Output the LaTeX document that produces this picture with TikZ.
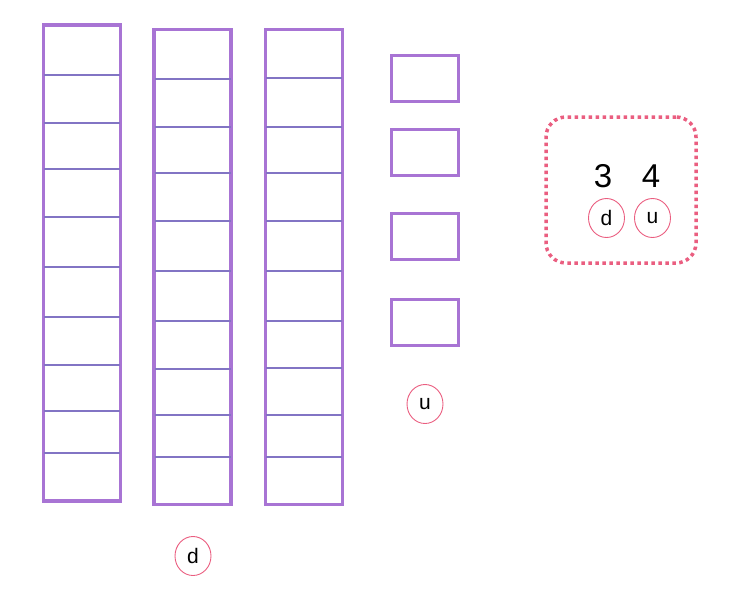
\documentclass[tikz,border=0pt]{standalone}
\usepackage{fontspec}
\setmainfont{Liberation Sans}
\usepackage{tikz}
\usetikzlibrary{shapes.geometric}
\definecolor{rodpurple}{RGB}{168, 116, 212}
\definecolor{rungpurple}{RGB}{130, 116, 196}
\definecolor{dotpink}{RGB}{234, 94, 128}
\tikzset{
    tenrod/.style={draw=rodpurple, line width=3.8pt, minimum width=77pt, inner sep=0pt},
    rung/.style={draw=rungpurple, line width=2.5pt},
    onebox/.style={draw=rodpurple, line width=3pt, minimum width=67pt, minimum height=46pt, inner sep=0pt},
    place/.style={ellipse, draw=dotpink, line width=0.9pt, minimum width=36pt, minimum height=39pt, inner sep=0pt, font=\fontsize{21}{21}\selectfont},
    digit/.style={font=\fontsize{33}{33}\selectfont, inner sep=0pt}
}

\begin{document}
\begin{tikzpicture}[x=1pt, y=-1pt]
    \useasboundingbox (0,0) rectangle (729,598);

    % tens
    \node[tenrod, minimum height=476pt] (rodA) at (82,263) {};
    \node[tenrod, minimum height=475pt] (rodB) at (192.5,267) {};
    \node[tenrod, minimum height=475pt] (rodC) at (304,267) {};
    \foreach \y in {75,123,169,217,267,317,365,411,453}
        \draw[rung] (44,\y) -- (120,\y);
    \foreach \y in {79,127,173,221,271,321,369,415,457}
        \draw[rung] (154.5,\y) -- (230.5,\y);
    \foreach \y in {78,127,173,221,271,321,368,415,457}
        \draw[rung] (266,\y) -- (342,\y);

    % ones
    \foreach \y [count=\i] in {78,152,236,322}
        \node[onebox] (one\i) at (425,\y) {};

    \node[place] (tensLabel) at (193,556) {d};
    \node[place] (onesLabel) at (425,404) {u};

    % result
    \node[draw=dotpink, line width=3.5pt, dash pattern=on 3.5pt off 3.5pt, rounded corners=20pt,
          minimum width=150pt, minimum height=146pt] (result) at (621,190) {};
    \node[digit] (tensDigit) at (603,176) {3};
    \node[digit] (onesDigit) at (651,176) {4};
    \node[place] (tensPlace) at (606.5,218) {d};
    \node[place] (onesPlace) at (652.5,218) {u};
\end{tikzpicture}
\end{document}
